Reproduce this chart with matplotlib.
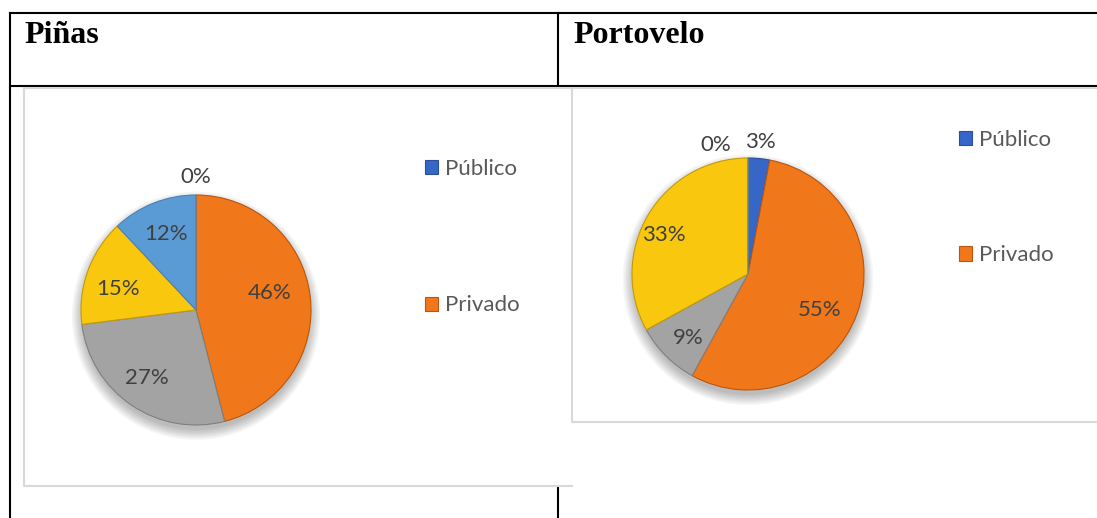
import numpy as np
import matplotlib
matplotlib.use("Agg")
import matplotlib.pyplot as plt
from matplotlib.patches import Rectangle, Circle

W, H = 1097, 518

# --- data -----------------------------------------------------------------
titles = ["Piñas", "Portovelo"]
legend_labels = ["Público", "Privado"]
pinas_values = [0, 46, 27, 15, 12]
portovelo_values = [3, 55, 9, 33, 0]
slice_colors = ["#3566c8", "#f0781a", "#a3a3a3", "#f9c80e", "#5b9bd5"]
edge_colors = ["#2a4f9c", "#b9560e", "#7f7f7f", "#c39a06", "#4a80b3"]

# label placement (distance from centre, angle shift in degrees) per slice
pinas_lbl = [(1.16, 0), (0.66, 6), (0.73, -2), (0.70, 5), (0.71, 0)]
portovelo_lbl = [(1.14, 0), (0.69, -7), (0.76, 2), (0.80, 6), (1.15, 14)]

fig = plt.figure(figsize=(W / 100, H / 100), dpi=100)
fig.patch.set_facecolor("white")

# background axes in pixel coordinates (y downwards)
bg = fig.add_axes([0, 0, 1, 1])
bg.set_xlim(0, W)
bg.set_ylim(H, 0)
bg.axis("off")

# table borders
lw = 1.5
bg.plot([10, W], [13, 13], color="black", lw=lw, zorder=1)
bg.plot([10, W], [86, 86], color="black", lw=lw, zorder=1)
bg.plot([10, 10], [13, H], color="black", lw=lw, zorder=1)
bg.plot([558, 558], [13, H], color="black", lw=lw, zorder=1)

# chart areas (white) hide the table lines behind them; grey frame, open on the right
grey = "#d9d9d9"
bg.add_patch(Rectangle((23, 88), 549, 398, fc="white", ec="none", zorder=2))
bg.plot([24, 24, 572], [88, 486, 486], color=grey, lw=1.5, zorder=2.5)
bg.plot([24, 572], [88, 88], color=grey, lw=1.5, zorder=2.5)
bg.add_patch(Rectangle((572, 88), 540, 334, fc="white", ec="none", zorder=3))
bg.plot([W, 572, 572, W], [88, 88, 422, 422], color=grey, lw=1.5, zorder=3.5)

# titles
bg.text(24, 43, titles[0], fontfamily="Liberation Serif", fontweight="bold",
        fontsize=23, va="baseline", ha="left", zorder=4)
bg.text(573, 43, titles[1], fontfamily="Liberation Serif", fontweight="bold",
        fontsize=23, va="baseline", ha="left", zorder=4)


def draw_pie(cx, cy, r, values, lbl, legend_x, legend_top, spacing):
    ax = fig.add_axes([(cx - r) / W, (H - cy - r) / H, 2 * r / W, 2 * r / H])
    ax.set_zorder(5)
    ax.patch.set_alpha(0)
    # soft shadow under the pie
    for rr in np.linspace(1.08, 0.99, 8):
        ax.add_patch(Circle((0.0, -0.05), rr, color="black", alpha=0.035,
                            lw=0, clip_on=False, zorder=0))
    wedges, _ = ax.pie(values, colors=slice_colors, startangle=90,
                       counterclock=False, radius=1,
                       wedgeprops=dict(linewidth=0.8))
    for w, ec in zip(wedges, edge_colors):
        w.set_edgecolor(ec)
        w.set_zorder(2)
    for w, v, (d, shift) in zip(wedges, values, lbl):
        ang = np.deg2rad((w.theta1 + w.theta2) / 2 + shift)
        ax.text(d * np.cos(ang), d * np.sin(ang), f"{v}%", ha="center",
                va="center", fontsize=16, color="#404040",
                fontfamily="Lato", zorder=3, clip_on=False)
    ax.set_xlim(-1, 1)
    ax.set_ylim(-1, 1)
    ax.set_aspect("equal")
    ax.axis("off")

    leg = fig.legend(wedges[:2], legend_labels, loc="upper left",
                     bbox_to_anchor=(legend_x / W, 1 - legend_top / H),
                     frameon=False, borderpad=0, borderaxespad=0,
                     handlelength=0.6, handleheight=0.6, handletextpad=0.3,
                     labelspacing=spacing,
                     prop=dict(family="Lato", size=16))
    for t in leg.get_texts():
        t.set_color("#595959")
    leg.set_zorder(6)
    return ax


draw_pie(196, 310, 115, pinas_values, pinas_lbl, 425, 159, 5.24)
draw_pie(748, 274, 116, portovelo_values, portovelo_lbl, 959, 130, 4.29)

fig.savefig("out.png", dpi=100, facecolor="white")
